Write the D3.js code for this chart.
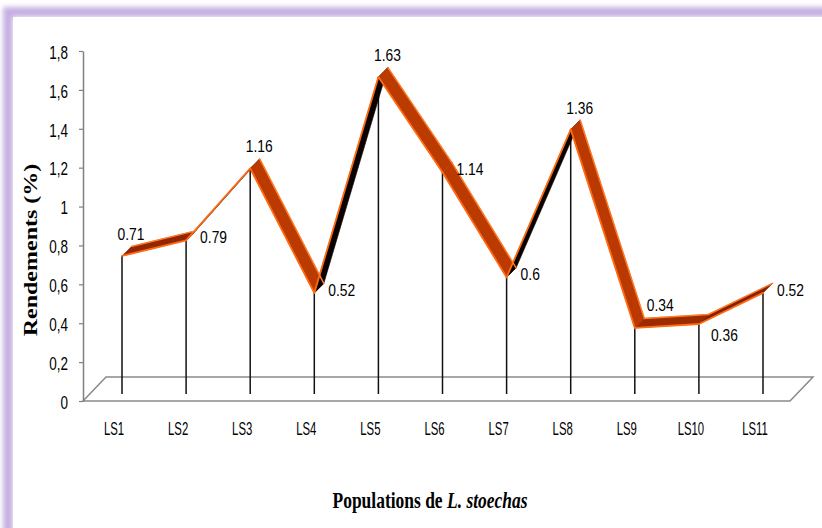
<!DOCTYPE html>
<html>
<head>
<meta charset="utf-8">
<script src="https://cdn.jsdelivr.net/npm/d3@7"></script>
<style>
  html, body { margin: 0; padding: 0; background: #fff; }
  svg { display: block; }
</style>
</head>
<body>
<svg id="chart" width="822" height="528"></svg>
<script>
// Yield of essential oil per population
const categories = ["LS1", "LS2", "LS3", "LS4", "LS5", "LS6", "LS7", "LS8", "LS9", "LS10", "LS11"];
const yields = [0.71, 0.79, 1.16, 0.52, 1.63, 1.14, 0.6, 1.36, 0.34, 0.36, 0.52];
// where each value label sits relative to its point
const labelPlacement = ["top", "right", "top", "right", "top", "right", "right", "top", "topRight", "bottomRight", "right"];
const yTickValues = [0, 0.2, 0.4, 0.6, 0.8, 1, 1.2, 1.4, 1.6, 1.8];
const yTickLabels = ["0", "0,2", "0,4", "0,6", "0,8", "1", "1,2", "1,4", "1,6", "1,8"];

const svg = d3.select("#chart");
const sansFont = "'Liberation Sans', Arial, sans-serif";
const serifFont = "'Liberation Serif', 'Times New Roman', serif";

// ---- soft lavender frame ----
const defs = svg.append("defs");
defs.append("filter").attr("id", "glow")
  .attr("x", "-10%").attr("y", "-10%").attr("width", "120%").attr("height", "120%")
  .append("feGaussianBlur").attr("stdDeviation", 2.6);

svg.append("rect")
  .attr("x", 8).attr("y", 12).attr("width", 1000).attr("height", 1000)
  .attr("fill", "none").attr("stroke", "#c6b0e2").attr("stroke-width", 10)
  .attr("filter", "url(#glow)");
svg.append("rect")
  .attr("x", 13).attr("y", 17).attr("width", 1000).attr("height", 1000)
  .attr("fill", "#fff");

// ---- scales ----
// front plane (axis) and the series plane set slightly back in depth
const yFront = d3.scaleLinear().domain([0, 1.8]).range([401, 51]);
const depthShift = { x: 8, y: -7 };
const xSeries = d3.scalePoint().domain(categories).range([122, 763]);
const ySeries = v => yFront(v) + depthShift.y;
const ribbonDepth = [9.5, -9.5];

// ---- floor ----
const floorFront = yFront(0);
const floorBackDy = -24, floorBackDx = 23;
const floorLeft = 83, floorRight = 790;
svg.append("path")
  .attr("d", d3.line()([
    [floorLeft, floorFront],
    [floorRight, floorFront],
    [floorRight + floorBackDx, floorFront + floorBackDy],
    [floorLeft + floorBackDx, floorFront + floorBackDy]
  ]) + "Z")
  .attr("fill", "#fff").attr("stroke", "#8a8a8a").attr("stroke-width", 1.5);

// ---- y axis ----
const yAxis = d3.axisLeft(yFront)
  .tickValues(yTickValues)
  .tickFormat((d, i) => yTickLabels[i])
  .tickSizeInner(4).tickSizeOuter(0);

const gy = svg.append("g").attr("transform", `translate(${floorLeft},0)`).call(yAxis);
gy.select(".domain").attr("stroke", "#808080").attr("stroke-width", 1.5);
gy.selectAll(".tick line").attr("stroke", "#808080").attr("stroke-width", 1.2);
gy.selectAll(".tick text")
  .attr("x", 0).attr("dy", "0.36em")
  .attr("transform", "translate(-15,1) scale(0.77,1)")
  .attr("text-anchor", "end")
  .attr("fill", "#000")
  .style("font-family", sansFont).style("font-size", "17.5px");

// ---- drop lines ----
const points = yields.map((v, i) => [xSeries(categories[i]), ySeries(v)]);

svg.append("g").selectAll("line").data(points).join("line")
  .attr("x1", d => d[0]).attr("x2", d => d[0])
  .attr("y1", ySeries(0)).attr("y2", d => d[1])
  .attr("stroke", "#111").attr("stroke-width", 1.5);

// ---- 3D ribbon line ----
const shadeTop = d3.interpolateRgb("#7c1c00", "#bb3a00");
const segs = [];
for (let i = 0; i < points.length - 1; i++) {
  const a = points[i], b = points[i + 1];
  const ab = [b[0] + ribbonDepth[0], b[1] + ribbonDepth[1]];
  const aa = [a[0] + ribbonDepth[0], a[1] + ribbonDepth[1]];
  const dx = b[0] - a[0], dy = b[1] - a[1];
  const cross = dx * ribbonDepth[1] - dy * ribbonDepth[0];
  const top = cross < 0;
  const ang = Math.atan2(dy, dx);
  const light = Math.max(0, Math.cos(ang - 0.98));
  segs.push({ a, b, ab, aa, top, fill: top ? shadeTop(light) : "#0a0300" });
}

const ribbon = svg.append("g");
ribbon.selectAll("path.face").data(segs).join("path")
  .attr("class", "face")
  .attr("d", s => d3.line()([s.a, s.b, s.ab, s.aa]) + "Z")
  .attr("fill", s => s.fill)
  .attr("stroke", s => s.fill).attr("stroke-width", 0.6)
  .attr("stroke-linejoin", "round");

// bright rims along the ribbon edges
ribbon.selectAll("line.front").data(segs).join("line")
  .attr("class", "front")
  .attr("x1", s => s.a[0]).attr("y1", s => s.a[1])
  .attr("x2", s => s.b[0]).attr("y2", s => s.b[1])
  .attr("stroke", "#ff6a12").attr("stroke-width", 1.8)
  .attr("stroke-linecap", "round");
ribbon.selectAll("line.back").data(segs.filter(s => s.top)).join("line")
  .attr("class", "back")
  .attr("x1", s => s.aa[0]).attr("y1", s => s.aa[1])
  .attr("x2", s => s.ab[0]).attr("y2", s => s.ab[1])
  .attr("stroke", "#ff7a26").attr("stroke-width", 1.5)
  .attr("stroke-linecap", "round");

// ---- value labels ----
const labelOffset = {
  top:         { dx: 9,  dy: -16, anchor: "middle" },
  right:       { dx: 14, dy: 3,   anchor: "start" },
  topRight:    { dx: 12, dy: -17, anchor: "start" },
  bottomRight: { dx: 12, dy: 17,  anchor: "start" }
};
svg.append("g").selectAll("text").data(yields).join("text")
  .attr("transform", (v, i) => {
    const o = labelOffset[labelPlacement[i]];
    return `translate(${points[i][0] + o.dx},${points[i][1] + o.dy}) scale(0.84,1)`;
  })
  .attr("text-anchor", (v, i) => labelOffset[labelPlacement[i]].anchor)
  .attr("fill", "#000")
  .style("font-family", sansFont).style("font-size", "16.5px")
  .text(v => String(v));

// ---- category labels ----
svg.append("g").selectAll("text").data(categories).join("text")
  .attr("transform", c => `translate(${xSeries(c) - 8},435) scale(0.63,1)`)
  .attr("text-anchor", "middle")
  .attr("fill", "#000")
  .style("font-family", sansFont).style("font-size", "18px")
  .text(c => c);

// ---- axis titles ----
svg.append("text")
  .attr("transform", "translate(37,250) scale(0.75,1) rotate(-90)")
  .attr("text-anchor", "middle")
  .attr("fill", "#000")
  .style("font-family", serifFont).style("font-size", "24px").style("font-weight", "bold")
  .text("Rendements (%)");

const xt = svg.append("text")
  .attr("transform", "translate(430,508) scale(0.76,1)")
  .attr("text-anchor", "middle")
  .attr("fill", "#000")
  .style("font-family", serifFont).style("font-size", "23px").style("font-weight", "bold");
xt.append("tspan").text("Populations de ");
xt.append("tspan").style("font-style", "italic").text("L. stoechas");
</script>
</body>
</html>
